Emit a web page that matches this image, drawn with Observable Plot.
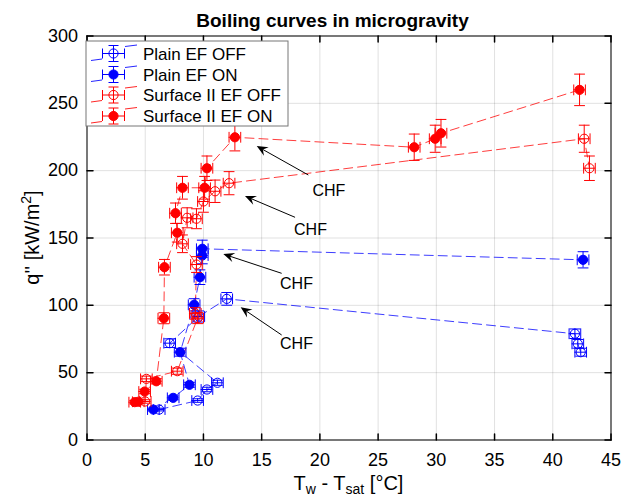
<!DOCTYPE html>
<html><head><meta charset="utf-8">
<script src="https://cdn.jsdelivr.net/npm/d3@7"></script>
<script src="https://cdn.jsdelivr.net/npm/@observablehq/plot@0.6"></script>
<style>body{margin:0;background:#fff;}</style>
</head><body><div id="chart"></div>
<script>
const FONT = "'Liberation Sans', Arial, Helvetica, sans-serif";
const titleText = "Boiling curves in microgravity";
const xTicks = [0, 5, 10, 15, 20, 25, 30, 35, 40, 45];
const yTicks = [0, 50, 100, 150, 200, 250, 300];

const seriesNames = ["Plain EF OFF", "Plain EF ON", "Surface II EF OFF", "Surface II EF ON"];
const seriesColors = ["#0000ff", "#0000ff", "#ff0000", "#ff0000"];
const seriesFilled = [false, true, false, true];

const plainOffX = [6.2, 9.5, 10.3, 11.2, 7.1, 9.6, 12.0, 41.9, 42.15, 42.4];
const plainOffQ = [22.6, 29.3, 37.5, 42.5, 71.9, 91.7, 104.8, 78.9, 71.4, 65.2];
const plainOnX = [5.7, 7.4, 8.8, 8.0, 9.2, 9.7, 9.9, 9.9, 42.6];
const plainOnQ = [22.6, 31.3, 41.0, 65.2, 100.4, 120.9, 137, 142, 133.8];
const surfOffX = [5.0, 5.1, 7.75, 9.5, 9.3, 9.4, 8.2, 8.6, 9.4, 10.0, 11.0, 12.2, 42.7, 43.15];
const surfOffQ = [28.6, 45.4, 51.1, 90.5, 94.0, 130.3, 145.7, 165.0, 164.3, 177.1, 184.7, 190.7, 223.7, 201.8];
const surfOnX = [4.1, 4.4, 4.95, 5.95, 6.6, 6.65, 7.75, 7.6, 8.2, 10.1, 10.3, 12.7, 28.1, 29.9, 30.4, 42.3];
const surfOnQ = [28.1, 28.4, 36.0, 43.6, 90.4, 128.3, 153.9, 168.4, 187.3, 187.3, 201.8, 224.8, 217.4, 223.7, 227.8, 260.0];

const xErr = 0.5;          // K
const qErrFrac = 0.045;    // relative

const chfLabel = "CHF";
const chfHeadX = [14.62, 13.61, 11.75, 13.24];
const chfHeadQ = [217.9, 180.8, 137.7, 98.2];
const chfTailX = [19.05, 17.91, 16.76, 16.76];
const chfTailQ = [196.4, 165.0, 123.4, 77.6];
const chfTextX = [20.77, 19.19, 17.99, 17.99];
const chfTextQ = [184.7, 156.3, 116.0, 71.4];

const allX = [plainOffX, plainOnX, surfOffX, surfOnX];
const allQ = [plainOffQ, plainOnQ, surfOffQ, surfOnQ];
const series = seriesNames.map((name, i) => ({
  name, color: seriesColors[i], filled: seriesFilled[i],
  data: allX[i].map((x, j) => ({x, q: allQ[i][j]}))
}));
const arrows = chfHeadX.map((hx, i) => ({hx, hq: chfHeadQ[i], tx: chfTailX[i], tq: chfTailQ[i], lx: chfTextX[i], lq: chfTextQ[i]}));

const lineShape = {draw(ctx, l) { ctx.moveTo(0, 0); ctx.lineTo(0, -l); }};
const CAP = 10;

const marks = [
  Plot.gridX(xTicks, {stroke: "black", strokeOpacity: 0.12}),
  Plot.gridY(yTicks, {stroke: "black", strokeOpacity: 0.12}),
];

for (const s of series) {
  marks.push(Plot.line(s.data, {x: "x", y: "q", stroke: s.color, strokeWidth: 0.9, strokeDasharray: "9,5", strokeOpacity: 0.85}));
}
for (const s of series) {
  const o = {stroke: s.color, strokeWidth: 1};
  marks.push(
    Plot.ruleY(s.data, {y: "q", x1: d => d.x - xErr, x2: d => d.x + xErr, ...o}),
    Plot.ruleX(s.data, {x: "x", y1: d => d.q * (1 - qErrFrac), y2: d => d.q * (1 + qErrFrac), ...o}),
    Plot.vector(s.data, {x: "x", y: d => d.q * (1 + qErrFrac), rotate: 90, length: CAP, anchor: "middle", shape: lineShape, ...o}),
    Plot.vector(s.data, {x: "x", y: d => d.q * (1 - qErrFrac), rotate: 90, length: CAP, anchor: "middle", shape: lineShape, ...o}),
    Plot.vector(s.data, {x: d => d.x - xErr, y: "q", rotate: 0, length: CAP, anchor: "middle", shape: lineShape, ...o}),
    Plot.vector(s.data, {x: d => d.x + xErr, y: "q", rotate: 0, length: CAP, anchor: "middle", shape: lineShape, ...o}),
    Plot.dot(s.data, {x: "x", y: "q", r: 4.6, stroke: s.color, strokeWidth: 1, fill: s.filled ? s.color : "none"})
  );
}

// arrows with filled dart heads
marks.push((index, scales) => {
  const g = d3.create("svg:g");
  for (const a of arrows) {
    const hx = scales.x(a.hx), hy = scales.y(a.hq), tx = scales.x(a.tx), ty = scales.y(a.tq);
    const ang = Math.atan2(hy - ty, hx - tx);
    const c = Math.cos(ang), s = Math.sin(ang);
    const L = 11, W = 4.8, N = 7;
    const pt = (along, perp) => [hx - c * along - s * perp, hy - s * along + c * perp];
    const bx = pt(N, 0);
    g.append("line").attr("x1", tx).attr("y1", ty).attr("x2", bx[0]).attr("y2", bx[1])
      .attr("stroke", "black").attr("stroke-width", 1);
    const p = [pt(0, 0), pt(L, W), pt(N, 0), pt(L, -W)];
    g.append("path").attr("d", "M" + p.map(q => q.join(",")).join("L") + "Z").attr("fill", "black");
  }
  return g.node();
});
marks.push(Plot.text(arrows, {x: "lx", y: "lq", text: () => chfLabel, fontSize: 16, fill: "black", fontFamily: FONT}));

marks.push(
  Plot.frame({stroke: "black", strokeWidth: 1}),
  Plot.vector(xTicks, {x: d => d, frameAnchor: "bottom", rotate: 0, length: 6, anchor: "start", shape: lineShape, stroke: "black"}),
  Plot.vector(xTicks, {x: d => d, frameAnchor: "top", rotate: 180, length: 6, anchor: "start", shape: lineShape, stroke: "black"}),
  Plot.vector(yTicks, {y: d => d, frameAnchor: "left", rotate: 90, length: 6, anchor: "start", shape: lineShape, stroke: "black"}),
  Plot.vector(yTicks, {y: d => d, frameAnchor: "right", rotate: -90, length: 6, anchor: "start", shape: lineShape, stroke: "black"}),
  Plot.axisX(xTicks, {tickSize: 0, tickPadding: 13, fontSize: 18, label: null, fill: "black"}),
  Plot.axisY(yTicks, {tickSize: 0, tickPadding: 9, fontSize: 18, label: null, fill: "black"})
);

// legend, title and axis labels
marks.push((index, scales, values, dim) => {
  const g = d3.create("svg:g").attr("font-family", FONT);
  const L = dim.marginLeft, T = dim.marginTop, B = dim.height - dim.marginBottom, R = dim.width - dim.marginRight;
  const cx = (L + R) / 2, cy = (T + B) / 2;
  // title
  g.append("text").attr("x", cx - 16).attr("y", 27).attr("text-anchor", "middle")
    .attr("font-size", 19).attr("font-weight", "bold").attr("fill", "black").text(titleText);
  // x label
  const xl = g.append("text").attr("x", cx).attr("y", 490).attr("text-anchor", "middle").attr("font-size", 20).attr("fill", "black");
  xl.append("tspan").text("T");
  xl.append("tspan").attr("font-size", 14).attr("dy", 4).text("w");
  xl.append("tspan").attr("dy", -4).text(" - T");
  xl.append("tspan").attr("font-size", 14).attr("dy", 4).text("sat");
  xl.append("tspan").attr("dy", -4).text(" [°C]");
  // y label
  const yl = g.append("text").attr("transform", `translate(39,${cy}) rotate(-90)`).attr("text-anchor", "middle").attr("font-size", 20).attr("fill", "black");
  yl.append("tspan").text("q'' [kW/m");
  yl.append("tspan").attr("font-size", 14).attr("dy", -8).text("2");
  yl.append("tspan").attr("dy", 8).text("]");
  // legend
  const lg = g.append("g");
  lg.append("rect").attr("x", 86).attr("y", 41).attr("width", 202).attr("height", 85)
    .attr("fill", "white").attr("stroke", "#777").attr("stroke-width", 1);
  const rows = [53.5, 74.5, 95, 116];
  series.forEach((s, i) => {
    const y = rows[i], mx = 113.5;
    const e = lg.append("g").attr("stroke", s.color).attr("stroke-width", 1).attr("fill", "none");
    e.append("line").attr("x1", 91).attr("y1", y + 7).attr("x2", 102).attr("y2", y + 5.5).attr("stroke-opacity", 0.85);
    e.append("line").attr("x1", 125).attr("y1", y - 7).attr("x2", 137).attr("y2", y - 8.5).attr("stroke-opacity", 0.85);
    e.append("line").attr("x1", mx - 11).attr("y1", y).attr("x2", mx + 11).attr("y2", y);
    e.append("line").attr("x1", mx).attr("y1", y - 8).attr("x2", mx).attr("y2", y + 8);
    e.append("line").attr("x1", mx - 5).attr("y1", y - 8).attr("x2", mx + 5).attr("y2", y - 8);
    e.append("line").attr("x1", mx - 5).attr("y1", y + 8).attr("x2", mx + 5).attr("y2", y + 8);
    e.append("line").attr("x1", mx - 11).attr("y1", y - 5).attr("x2", mx - 11).attr("y2", y + 5);
    e.append("line").attr("x1", mx + 11).attr("y1", y - 5).attr("x2", mx + 11).attr("y2", y + 5);
    e.append("circle").attr("cx", mx).attr("cy", y).attr("r", 4.6).attr("fill", s.filled ? s.color : "none");
    lg.append("text").attr("x", 143).attr("y", y + 6).attr("text-anchor", "start").attr("font-size", 17).attr("fill", "black").text(s.name);
  });
  return g.node();
});

const chart = Plot.plot({
  width: 630, height: 500,
  marginLeft: 86.5, marginRight: 19.5, marginTop: 35.5, marginBottom: 60.5,
  x: {domain: [0, 45]},
  y: {domain: [0, 300]},
  style: {fontFamily: FONT, background: "white", color: "black", overflow: "visible"},
  marks
});
document.getElementById("chart").appendChild(chart);
</script>
</body></html>
